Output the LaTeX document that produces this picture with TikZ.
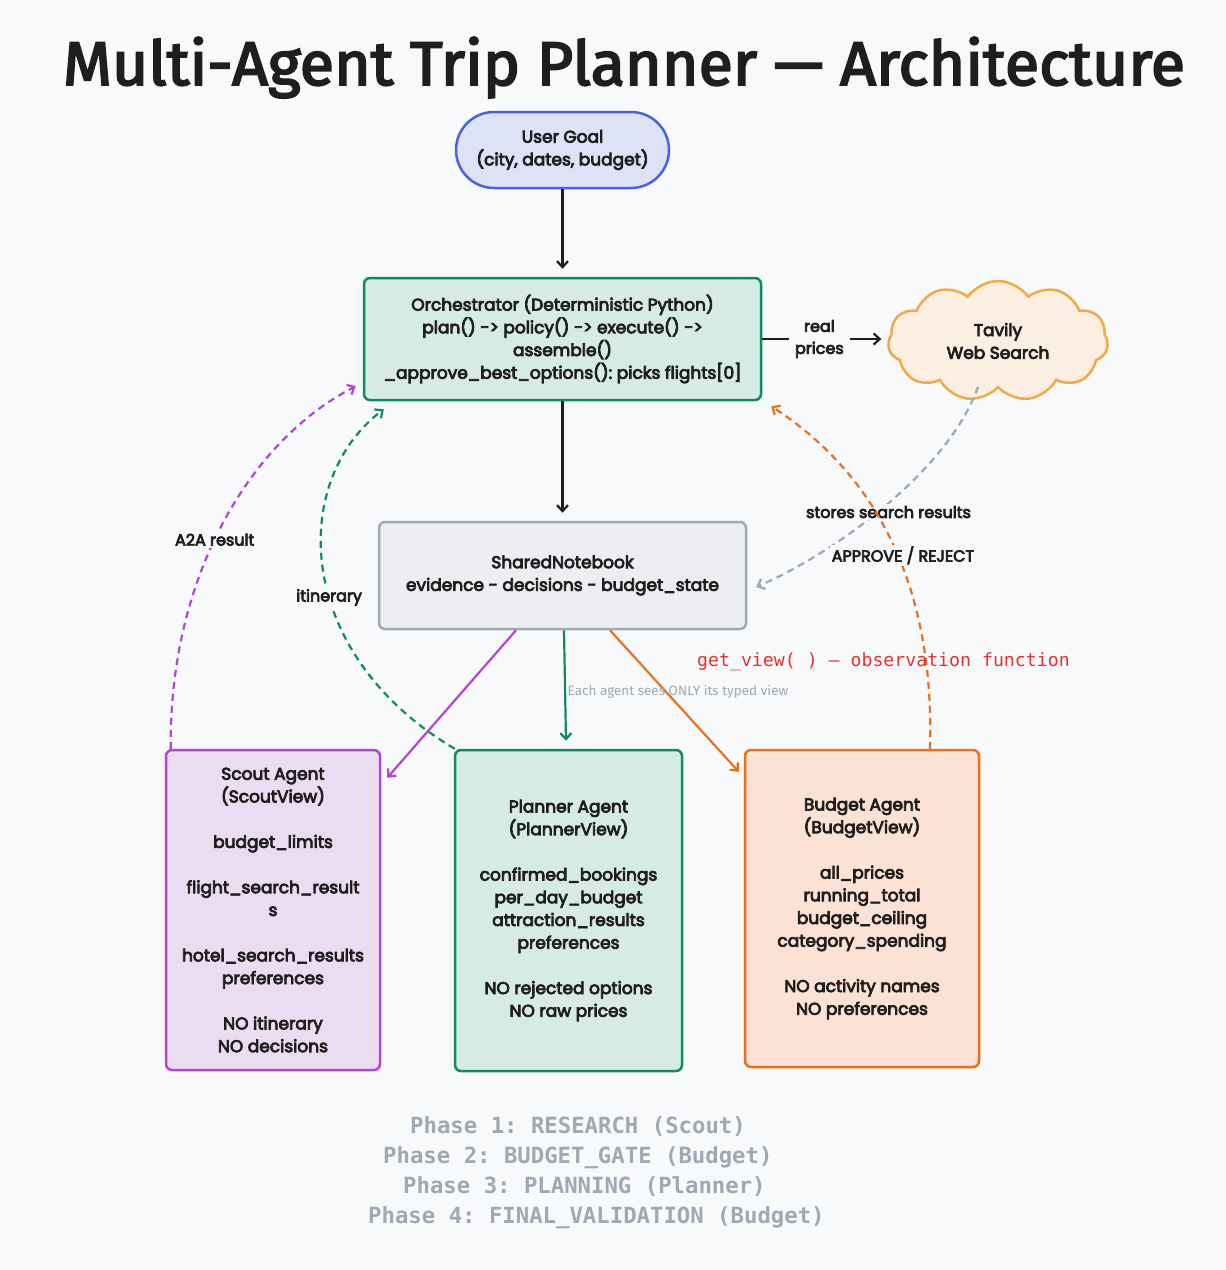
\documentclass[tikz,border=0pt]{standalone}
\usepackage{fontspec}
\setmainfont{Poppins}[FakeBold=4.5]
\newfontfamily\titlefont{Fira Sans}[FakeBold=3]
\newfontfamily\monofont{DejaVu Sans Mono}
\newfontfamily\smallsans{Fira Sans}
\usetikzlibrary{arrows.meta,shapes.symbols}
\frenchspacing
\definecolor{bgc}{RGB}{248,249,251}
\definecolor{ink}{RGB}{30,30,30}
\definecolor{blueb}{RGB}{72,98,224}
\definecolor{bluef}{RGB}{222,226,247}
\definecolor{greenb}{RGB}{16,138,96}
\definecolor{greenf}{RGB}{214,235,227}
\definecolor{grayb}{RGB}{162,169,178}
\definecolor{grayf}{RGB}{236,238,241}
\definecolor{purpb}{RGB}{180,68,212}
\definecolor{purpf}{RGB}{236,220,242}
\definecolor{orb}{RGB}{232,112,31}
\definecolor{orf}{RGB}{251,226,212}
\definecolor{cloudb}{RGB}{242,170,70}
\definecolor{cloudf}{RGB}{251,239,226}
\definecolor{dashgray}{RGB}{160,168,180}
\definecolor{redtxt}{RGB}{228,50,50}
\definecolor{phasegray}{RGB}{160,168,180}
\tikzset{
  bodyfont/.style={font=\fontsize{17}{22.7}\selectfont, text=ink},
  box/.style={bodyfont, rounded corners=6pt, line width=2.5pt, align=center},
  pill/.style={bodyfont, draw=blueb, fill=bluef, line width=2.5pt, rounded corners=38pt, align=center, minimum width=213, minimum height=76},
  arr/.style={line width=2.2pt, -{Straight Barb[length=6pt,width=11pt]}},
  darr/.style={line width=2.2pt, dash pattern=on 7pt off 5pt, -{Straight Barb[length=6pt,width=11pt]}},
  elabel/.style={font=\fontsize{16}{22}\selectfont, text=ink, fill=bgc, inner sep=2pt, align=center},
  phase/.style={font=\monofont\bfseries\fontsize{22.3}{26}\selectfont, text=phasegray, anchor=base west, inner sep=0pt}
}
\begin{document}
\begin{tikzpicture}[x=1pt,y=-1pt]
\fill[bgc] (0,0) rectangle (1226,1270);
\useasboundingbox (0,0) rectangle (1226,1270);

% title
\node[anchor=base, inner sep=0pt, text=ink] (title) at (624,85)
  {\resizebox{1122pt}{48pt}{\titlefont Multi-Agent Trip Planner — Architecture}};

% nodes
\node[pill] (goal) at (562.5,150) {User Goal\\(city, dates, budget)};
\node[box, draw=greenb, fill=greenf, minimum width=397, minimum height=122] (orch) at (562.5,339)
  {Orchestrator (Deterministic Python)\\plan() -> policy() -> execute() ->\\assemble()\\\_approve\_best\_options(): picks flights[0]};
\node[cloud, cloud puffs=11, cloud puff arc=110, aspect=1.85, minimum width=220, minimum height=120,
      draw=cloudb, fill=cloudf, line width=2.5pt, align=center, bodyfont] (tav) at (998,341) {Tavily\\Web Search};
\node[box, draw=grayb, fill=grayf, minimum width=367, minimum height=107] (shared) at (562.5,575.5)
  {SharedNotebook\\evidence - decisions - budget\_state};
\node[box, draw=purpb, fill=purpf, minimum width=214, minimum height=320] (scout) at (273,910)
  {Scout Agent\\(ScoutView)\\[22.7pt]budget\_limits\\[22.7pt]flight\_search\_result\\s\\[22.7pt]hotel\_search\_results\\preferences\\[22.7pt]NO itinerary\\NO decisions};
\node[box, draw=greenb, fill=greenf, minimum width=227, minimum height=321] (planner) at (568.5,910.5)
  {Planner Agent\\(PlannerView)\\[22.7pt]confirmed\_bookings\\per\_day\_budget\\attraction\_results\\preferences\\[22.7pt]NO rejected options\\NO raw prices};
\node[box, draw=orb, fill=orf, minimum width=234, minimum height=317] (budget) at (862,908.5)
  {Budget Agent\\(BudgetView)\\[22.7pt]all\_prices\\running\_total\\budget\_ceiling\\category\_spending\\[22.7pt]NO activity names\\NO preferences};

% solid connectors
\draw[arr, ink] (goal.south) -- ([yshift=8pt]orch.north);
\draw[arr, ink] (orch.south) -- ([yshift=8pt]shared.north);
\draw[arr, ink] (orch.east) -- ([xshift=-6pt]tav.west |- orch.east)
  node[elabel, pos=0.48, inner xsep=6pt] (rp) {real\\prices};
\draw[arr, purpb] ([xshift=-46.5pt]shared.south) -- ([xshift=6pt,yshift=-29pt]scout.north east);
\draw[arr, greenb] ([xshift=1.5pt]shared.south) -- ([xshift=-2.5pt,yshift=8pt]planner.north);
\draw[arr, orb] ([xshift=47.5pt]shared.south) -- ([xshift=-5pt,yshift=-23pt]budget.north west);

% dashed return arrows
\draw[darr, purpb] ([xshift=6pt]scout.north west) .. controls +(-2,-170) and +(-107,55) .. ([xshift=-7pt,yshift=15pt]orch.south west)
  node[elabel, pos=0.46] (a2a) {A2A result};
\draw[darr, greenb] ([xshift=1pt]planner.north west) .. controls +(-161,-95) and +(-95,72) .. ([xshift=21pt,yshift=-8pt]orch.south west)
  node[elabel, pos=0.43] (itin) {itinerary};
\draw[darr, dashgray] ([xshift=-20pt,yshift=2pt]tav.south) .. controls +(-28,80) and +(85,-37) .. ([xshift=9pt,yshift=-11.5pt]shared.east)
  node[elabel, pos=0.5, yshift=-9pt] (ssr) {stores search results};
\draw[darr, orb] ([xshift=68pt]budget.north) .. controls +(5,-170) and +(100,65) .. ([xshift=9pt,yshift=-5pt]orch.south east)
  node[elabel, pos=0.45, xshift=5pt] (appr) {APPROVE / REJECT};

% annotations
\node[anchor=base west, inner sep=0pt, text=redtxt, font=\monofont\fontsize{18.2}{22}\selectfont] (obs) at (697,666)
  {get\_view( ) — observation function};
\node[inner sep=0pt, text=phasegray, font=\smallsans\fontsize{13.5}{16}\selectfont] (each) at (678,692)
  {Each agent sees ONLY its typed view};

\node[phase] (p1) at (410,1133) {Phase 1: RESEARCH (Scout)};
\node[phase] (p2) at (383,1163) {Phase 2: BUDGET\_GATE (Budget)};
\node[phase] (p3) at (403,1193) {Phase 3: PLANNING (Planner)};
\node[phase] (p4) at (368,1223) {Phase 4: FINAL\_VALIDATION (Budget)};
\end{tikzpicture}
\end{document}
